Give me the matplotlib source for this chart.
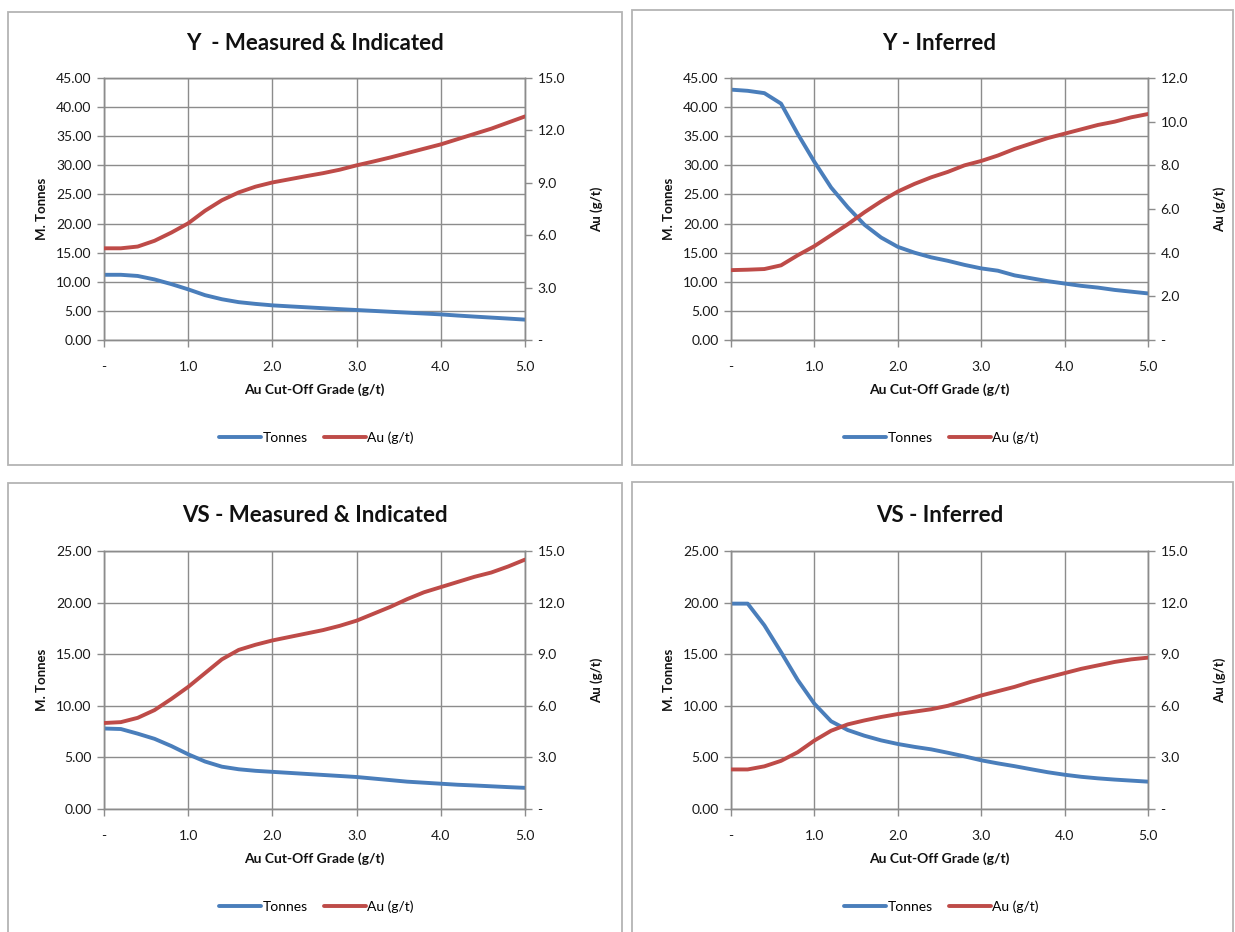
import matplotlib
matplotlib.use("Agg")
import matplotlib.pyplot as plt
from matplotlib.patches import Rectangle
from matplotlib.ticker import FuncFormatter, MultipleLocator

plt.rcParams['font.family'] = ['Lato', 'DejaVu Sans']

BLUE = '#4A7EBB'
RED = '#BE4B48'
GRID = '#8C8C8C'

# cut-off grades (g/t)
grade = [0.0, 0.2, 0.4, 0.6, 0.8, 1.0, 1.2, 1.4, 1.6, 1.8, 2.0, 2.2, 2.4,
         2.6, 2.8, 3.0, 3.2, 3.4, 3.6, 3.8, 4.0, 4.2, 4.4, 4.6, 4.8, 5.0]

# Y - Measured & Indicated
y_mi_tonnes = [11.2, 11.2, 11.0, 10.4, 9.6, 8.7, 7.7, 7.0, 6.5, 6.2, 5.95, 5.78, 5.62,
               5.46, 5.3, 5.15, 5.0, 4.85, 4.7, 4.55, 4.4, 4.2, 4.02, 3.85, 3.68, 3.5]
y_mi_au = [5.25, 5.25, 5.35, 5.68, 6.15, 6.68, 7.4, 8.0, 8.45, 8.78, 9.02, 9.2, 9.38,
           9.55, 9.75, 10.0, 10.22, 10.45, 10.7, 10.95, 11.2, 11.5, 11.8, 12.1, 12.45, 12.8]

# Y - Inferred
y_inf_tonnes = [43.0, 42.8, 42.4, 40.6, 35.4, 30.6, 26.2, 22.8, 19.8, 17.6, 16.0, 15.0, 14.2,
                13.6, 12.9, 12.3, 11.9, 11.1, 10.6, 10.1, 9.7, 9.3, 9.0, 8.6, 8.3, 8.0]
y_inf_au = [3.2, 3.22, 3.25, 3.42, 3.88, 4.3, 4.8, 5.3, 5.85, 6.35, 6.8, 7.15, 7.45,
            7.7, 8.0, 8.2, 8.45, 8.75, 9.0, 9.25, 9.45, 9.65, 9.85, 10.0, 10.2, 10.35]

# VS - Measured & Indicated
vs_mi_tonnes = [7.8, 7.75, 7.3, 6.8, 6.1, 5.3, 4.6, 4.1, 3.85, 3.7, 3.6, 3.5, 3.4,
                3.3, 3.2, 3.1, 2.95, 2.8, 2.65, 2.55, 2.45, 2.35, 2.28, 2.2, 2.12, 2.05]
vs_mi_au = [5.0, 5.05, 5.3, 5.75, 6.4, 7.1, 7.9, 8.7, 9.25, 9.55, 9.8, 10.0, 10.2,
            10.4, 10.65, 10.95, 11.35, 11.75, 12.2, 12.6, 12.9, 13.2, 13.5, 13.75, 14.1, 14.5]

# VS - Inferred
vs_inf_tonnes = [19.9, 19.9, 17.8, 15.2, 12.5, 10.2, 8.5, 7.65, 7.1, 6.65, 6.3, 6.02, 5.78,
                 5.45, 5.1, 4.72, 4.42, 4.15, 3.85, 3.56, 3.32, 3.12, 2.97, 2.85, 2.75, 2.65]
vs_inf_au = [2.3, 2.3, 2.48, 2.8, 3.3, 3.98, 4.55, 4.92, 5.15, 5.35, 5.52, 5.66, 5.8,
             6.0, 6.3, 6.6, 6.85, 7.1, 7.4, 7.65, 7.9, 8.15, 8.35, 8.55, 8.7, 8.8]

titles = ["Y  - Measured & Indicated", "Y - Inferred",
          "VS - Measured & Indicated", "VS - Inferred"]
tonnes_series = [y_mi_tonnes, y_inf_tonnes, vs_mi_tonnes, vs_inf_tonnes]
au_series = [y_mi_au, y_inf_au, vs_mi_au, vs_inf_au]
tonnes_max = [45, 45, 25, 25]
au_max = [15, 12, 15, 15]
au_step = [3, 2, 3, 3]

W, H = 1235, 932
fig = plt.figure(figsize=(W / 100, H / 100), dpi=100)

# panel frames (pixels: left, top, right, bottom)
frames = [(8, 12, 622, 465), (632, 10, 1233, 465), (8, 483, 622, 940), (632, 482, 1233, 940)]
# plot areas (pixels)
areas = [(104, 78, 525, 340), (731, 78, 1148, 340), (104, 551, 525, 809), (731, 551, 1148, 809)]


def fx(px):
    return px / W


def fy(py):
    return 1 - py / H


def dash_zero(fmt):
    return FuncFormatter(lambda v, p: '-' if abs(v) < 1e-9 else fmt % v)


for i in range(4):
    l, t, r, b = frames[i]
    fig.patches.append(Rectangle((fx(l), fy(b)), fx(r - l), (b - t) / H, transform=fig.transFigure,
                                 fill=False, edgecolor='#B4B4B4', linewidth=1.3))

    l, t, r, b = areas[i]
    ax = fig.add_axes([fx(l), fy(b), fx(r - l), (b - t) / H])
    ax2 = ax.twinx()

    h1, = ax.plot(grade, tonnes_series[i], color=BLUE, lw=2.8, solid_capstyle='round',
                  solid_joinstyle='round', label='Tonnes', zorder=3)
    h2, = ax2.plot(grade, au_series[i], color=RED, lw=2.8, solid_capstyle='round',
                   solid_joinstyle='round', label='Au (g/t)', zorder=3)

    ax.set_xlim(0, 5)
    ax.set_ylim(0, tonnes_max[i])
    ax2.set_ylim(0, au_max[i])
    ax.xaxis.set_major_locator(MultipleLocator(1))
    ax.yaxis.set_major_locator(MultipleLocator(5))
    ax2.yaxis.set_major_locator(MultipleLocator(au_step[i]))
    ax.xaxis.set_major_formatter(dash_zero('%.1f'))
    ax.yaxis.set_major_formatter(FuncFormatter(lambda v, p: '%.2f' % v))
    ax2.yaxis.set_major_formatter(dash_zero('%.1f'))

    ax.grid(True, color=GRID, lw=1.0)
    ax.set_axisbelow(True)
    for a in (ax, ax2):
        for s in a.spines.values():
            s.set_color(GRID)
            s.set_linewidth(1.0)
        a.tick_params(axis='both', colors=GRID, labelcolor='#1a1a1a', labelsize=10,
                      length=5, width=1.0, pad=4)
    ax.tick_params(axis='x', pad=10)

    cx = (l + r) / 2
    fig.text(fx(cx), fy(t - 35), titles[i], ha='center', va='center',
             fontsize=16, fontweight='bold', color='#111111')
    fig.text(fx(cx), fy(b + 50), "Au Cut-Off Grade (g/t)", ha='center', va='center',
             fontsize=10, fontweight='bold', color='#111111')
    fig.text(fx(l - 62), fy((t + b) / 2), "M. Tonnes", ha='center', va='center',
             rotation=90, fontsize=9.5, fontweight='bold', color='#111111')
    fig.text(fx(r + 72), fy((t + b) / 2), "Au (g/t)", ha='center', va='center',
             rotation=90, fontsize=9.5, fontweight='bold', color='#111111')

    fig.legend(handles=[h1, h2], loc='center', bbox_to_anchor=(fx(cx + 2), fy(b + 98)),
               ncol=2, frameon=False, fontsize=10, handlelength=3.0, handletextpad=0.1,
               columnspacing=1.2)

fig.savefig('out.png', dpi=100, facecolor='white')
